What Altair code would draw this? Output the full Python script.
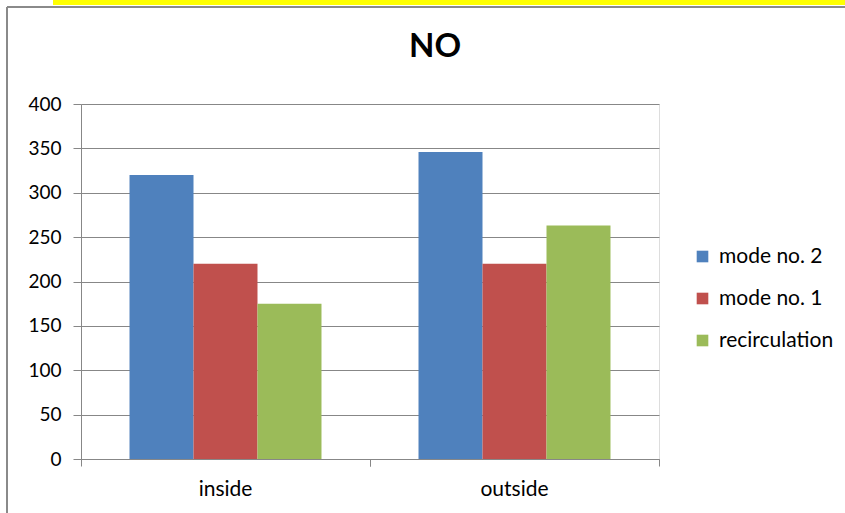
import altair as alt
import pandas as pd

title_text = ["NO"]
categories = ["inside", "outside"]
series = ["mode no. 2", "mode no. 1", "recirculation"]
mode2 = [320, 346]
mode1 = [220, 220]
recirc = [175, 263]
colors = ["#4F81BD", "#C0504D", "#9BBB59"]
y_ticks = [0, 50, 100, 150, 200, 250, 300, 350, 400]

rows = []
for i, c in enumerate(categories):
    for s, vals in zip(series, [mode2, mode1, recirc]):
        rows.append({"location": c, "series": s, "value": vals[i]})
df = pd.DataFrame(rows)
title_df = pd.DataFrame({"t": title_text})

W, H = 578, 355
FONT = "Lato"
GRAY = "#878787"

xscale = alt.Scale(domain=categories, paddingInner=0, paddingOuter=0)
yscale = alt.Scale(domain=[0, 400], nice=False)

base = alt.Chart(df)

bars = base.mark_bar().encode(
    x=alt.X("location:N", scale=xscale, sort=categories,
            axis=alt.Axis(title=None, orient="bottom", labelAngle=0, ticks=False,
                          domain=True, domainColor=GRAY, labelFont=FONT,
                          labelFontSize=21, labelColor="#000000", labelPadding=19)),
    xOffset=alt.XOffset("series:N", sort=series,
                        scale=alt.Scale(domain=series, paddingInner=0, paddingOuter=0.758)),
    y=alt.Y("value:Q", scale=yscale,
            axis=alt.Axis(title=None, values=y_ticks, grid=True, gridColor=GRAY,
                          domain=True, domainColor=GRAY, ticks=True, tickColor=GRAY,
                          tickSize=8, labelFont=FONT, labelFontSize=19,
                          labelColor="#000000", labelPadding=12)),
    color=alt.Color("series:N", sort=series,
                    scale=alt.Scale(domain=series, range=colors),
                    legend=alt.Legend(title=None, orient="none", legendX=611, legendY=142,
                                      symbolType="square", symbolSize=135,
                                      symbolStrokeWidth=0, labelFont=FONT,
                                      labelFontSize=21, labelColor="#000000",
                                      rowPadding=20, labelOffset=6)),
)

ticks_start = base.mark_bar(opacity=0).encode(
    x=alt.X("location:N", scale=xscale, sort=categories,
            axis=alt.Axis(title=None, orient="bottom", labels=False, domain=False,
                          ticks=True, tickColor=GRAY, tickSize=7, bandPosition=0)),
)
ticks_end = base.mark_bar(opacity=0).encode(
    x=alt.X("location:N", scale=xscale, sort=categories,
            axis=alt.Axis(title=None, orient="bottom", labels=False, domain=False,
                          ticks=True, tickColor=GRAY, tickSize=7, bandPosition=1)),
)

title = alt.Chart(title_df).mark_text(
    font=FONT, fontSize=33, fontWeight="bold", color="#000000",
    align="center", baseline="alphabetic"
).encode(text="t:N", x=alt.value(354), y=alt.value(-47))

frame_v = base.mark_rule(color="#8a8a8a", strokeWidth=2).encode(
    x=alt.value(-74), y=alt.value(-97), y2=alt.value(420))
frame_h = base.mark_rule(color="#8a8a8a", strokeWidth=2).encode(
    x=alt.value(-74), x2=alt.value(780), y=alt.value(-97))
yellow = base.mark_rule(color="#FFFF00", strokeWidth=5).encode(
    x=alt.value(-28), x2=alt.value(780), y=alt.value(-102))

chart = alt.layer(frame_v, frame_h, yellow, title, bars, ticks_start, ticks_end).resolve_axis(
    x="independent"
).properties(
    width=W, height=H,
    padding={"left": 81, "top": 104, "right": 186, "bottom": 54},
    autosize=alt.AutoSizeParams(type="none"),
).configure_view(strokeWidth=0).configure(background="white")

chart.save("out.html", embed_options={"renderer": "svg", "actions": False})
